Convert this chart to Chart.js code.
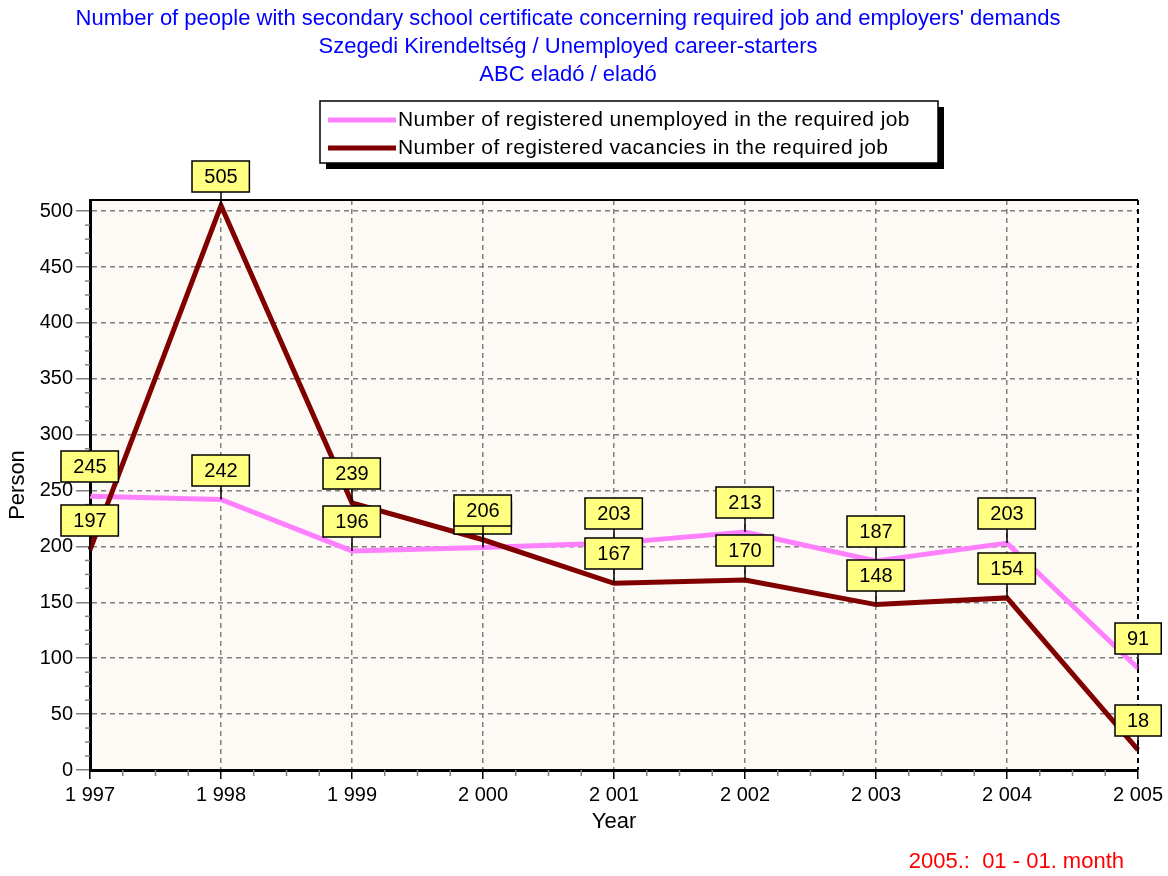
<!DOCTYPE html>
<html>
<head>
<meta charset="utf-8">
<script src="https://cdn.jsdelivr.net/npm/chart.js@4"></script>
<style>
html, body { margin: 0; padding: 0; background: #fff; }
#wrap { width: 1168px; height: 876px; }
</style>
</head>
<body>
<div id="wrap"><canvas id="lineChart"></canvas></div>
<script>
const years = ['1 997', '1 998', '1 999', '2 000', '2 001', '2 002', '2 003', '2 004', '2 005'];
const unemployed = [245, 242, 196, 199, 203, 213, 187, 203, 91];
const vacancies = [197, 505, 239, 206, 167, 170, 148, 154, 18];
const yTicks = [0, 50, 100, 150, 200, 250, 300, 350, 400, 450, 500];
const titleLines = [
    "Number of people with secondary school certificate concerning required job and employers' demands",
    'Szegedi Kirendeltség / Unemployed career-starters',
    'ABC eladó / eladó'
];
const footnote = '2005.:  01 - 01. month';

const FONT = '"Liberation Sans", Arial, sans-serif';

// background, frame, value boxes, legend, titles
const decor = {
    id: 'decor',
    beforeDraw(chart) {
        const a = chart.chartArea, ctx = chart.ctx;
        ctx.save();
        ctx.fillStyle = '#fdf9f4';
        ctx.fillRect(a.left, a.top, a.right - a.left, a.bottom - a.top);
        ctx.restore();
    },
    beforeDatasetsDraw(chart) {
        const a = chart.chartArea, ctx = chart.ctx;
        const xs = chart.scales.x, ys = chart.scales.y;
        ctx.save();
        ctx.strokeStyle = '#000';
        ctx.lineWidth = 2;
        ctx.beginPath();
        ctx.moveTo(a.left, a.top);
        ctx.lineTo(a.right, a.top);
        ctx.stroke();
        ctx.setLineDash([5, 4]);
        ctx.beginPath();
        ctx.moveTo(a.right, a.top);
        ctx.lineTo(a.right, a.bottom);
        ctx.stroke();
        ctx.setLineDash([]);
        // minor ticks
        ctx.strokeStyle = '#808080';
        ctx.lineWidth = 1.5;
        for (let v = 12.5; v < 510; v += 12.5) {
            if (v % 50 === 0) continue;
            const y = ys.getPixelForValue(v);
            ctx.beginPath();
            ctx.moveTo(a.left - 5, y);
            ctx.lineTo(a.left, y);
            ctx.stroke();
        }
        for (let i = 0; i < years.length - 1; i++) {
            const x0 = xs.getPixelForValue(i), x1 = xs.getPixelForValue(i + 1);
            for (let k = 1; k < 4; k++) {
                const x = x0 + (x1 - x0) * k / 4;
                ctx.beginPath();
                ctx.moveTo(x, a.bottom);
                ctx.lineTo(x, a.bottom + 6);
                ctx.stroke();
            }
        }
        ctx.restore();
    },
    afterDatasetsDraw(chart) {
        const ctx = chart.ctx;
        ctx.save();
        ctx.font = '20px ' + FONT;
        ctx.textAlign = 'center';
        ctx.textBaseline = 'middle';
        chart.data.datasets.forEach((ds, i) => {
            const meta = chart.getDatasetMeta(i);
            meta.data.forEach((p, j) => {
                const txt = String(ds.data[j]);
                const w = ctx.measureText(txt).width + 24, h = 31;
                const bx = Math.round(p.x - w / 2), by = Math.round(p.y - 14 - h);
                ctx.strokeStyle = '#000';
                ctx.lineWidth = 1.5;
                ctx.beginPath();
                ctx.moveTo(p.x, p.y - 14);
                ctx.lineTo(p.x, p.y);
                ctx.stroke();
                ctx.fillStyle = '#ffff80';
                ctx.fillRect(bx, by, w, h);
                ctx.strokeRect(bx, by, w, h);
                ctx.fillStyle = '#000';
                ctx.fillText(txt, p.x, by + h / 2 + 1);
            });
        });
        ctx.restore();
    },
    afterDraw(chart) {
        const ctx = chart.ctx;
        ctx.save();
        // titles
        ctx.fillStyle = '#0000ff';
        ctx.font = '22px ' + FONT;
        ctx.textAlign = 'center';
        ctx.textBaseline = 'middle';
        titleLines.forEach((t, i) => ctx.fillText(t, 568, 19 + i * 28));
        // footnote
        ctx.fillStyle = '#ff0000';
        ctx.textAlign = 'right';
        ctx.fillText(footnote, 1124, 862);
        // legend
        const lx = 320, ly = 101, lw = 618, lh = 62;
        ctx.fillStyle = '#000';
        ctx.fillRect(lx + 6, ly + 6, lw, lh);
        ctx.fillStyle = '#fff';
        ctx.fillRect(lx, ly, lw, lh);
        ctx.strokeStyle = '#000';
        ctx.lineWidth = 1.5;
        ctx.strokeRect(lx, ly, lw, lh);
        ctx.font = '21px ' + FONT;
        ctx.letterSpacing = '0.4px';
        ctx.textAlign = 'left';
        chart.data.datasets.forEach((ds, i) => {
            const y = ly + 19 + i * 28;
            ctx.strokeStyle = ds.borderColor;
            ctx.lineWidth = 5;
            ctx.beginPath();
            ctx.moveTo(lx + 8, y);
            ctx.lineTo(lx + 76, y);
            ctx.stroke();
            ctx.fillStyle = '#000';
            ctx.fillText(ds.label, lx + 78, y);
        });
        ctx.restore();
    }
};

let ctx = document.getElementById('lineChart').getContext('2d');
let lineChart = new Chart(ctx, {
    type: 'line',
    data: {
        labels: years,
        datasets: [{
            label: 'Number of registered unemployed in the required job',
            data: unemployed,
            borderColor: '#ff80ff',
            borderWidth: 5,
            pointRadius: 0,
            tension: 0,
            order: 1
        }, {
            label: 'Number of registered vacancies in the required job',
            data: vacancies,
            borderColor: '#800000',
            borderWidth: 5,
            pointRadius: 0,
            tension: 0,
            order: 0
        }]
    },
    options: {
        responsive: true,
        maintainAspectRatio: false,
        animation: false,
        layout: {
            padding: { top: 200, left: 0, right: 30, bottom: 36 }
        },
        plugins: {
            legend: { display: false },
            tooltip: { enabled: false }
        },
        scales: {
            x: {
                offset: false,
                afterFit(scale) { scale.height = 70; },
                grid: {
                    color: '#808080',
                    lineWidth: 1.5,
                    tickLength: 9,
                    tickColor: '#000',
                    tickBorderDash: []
                },
                border: { color: '#000', width: 3, dash: [5, 4] },
                ticks: {
                    color: '#000',
                    padding: 4,
                    maxRotation: 0,
                    autoSkip: false,
                    font: { family: FONT, size: 20 }
                },
                title: {
                    display: true,
                    text: 'Year',
                    color: '#000',
                    padding: { top: 0, bottom: 5 },
                    font: { family: FONT, size: 22 }
                }
            },
            y: {
                min: 0,
                max: 510,
                afterFit(scale) { scale.width = 90; },
                afterBuildTicks(scale) {
                    scale.ticks = yTicks.map(v => ({ value: v }));
                },
                grid: {
                    color: '#808080',
                    lineWidth: 1.5,
                    tickLength: 14,
                    tickColor: '#808080'
                },
                border: { color: '#000', width: 3, dash: [5, 4] },
                ticks: {
                    color: '#000',
                    padding: 3,
                    font: { family: FONT, size: 20 }
                },
                title: {
                    display: true,
                    text: 'Person',
                    color: '#000',
                    padding: { top: 5, bottom: 0 },
                    font: { family: FONT, size: 22 }
                }
            }
        }
    },
    plugins: [decor]
});
</script>
</body>
</html>
